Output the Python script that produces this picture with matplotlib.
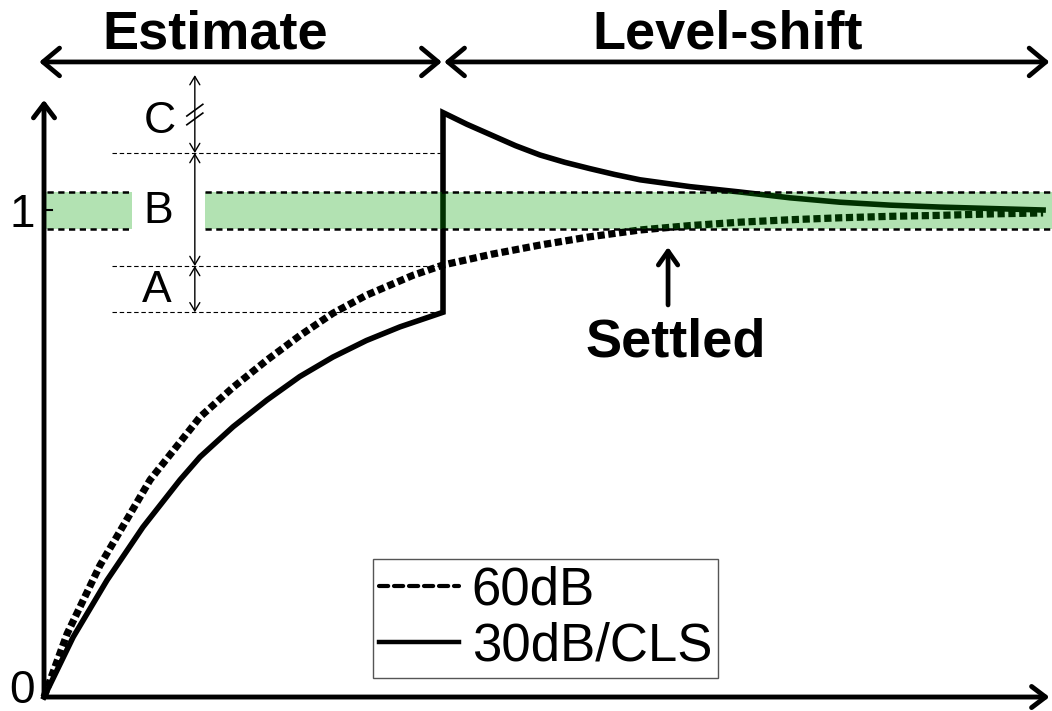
import matplotlib
matplotlib.use("Agg")
import matplotlib.pyplot as plt

plt.rcParams['font.family'] = ['Liberation Sans', 'DejaVu Sans']

# normalised time (1 = end of estimate phase) and normalised output
t_60 = [0.0, 0.058, 0.14, 0.266, 0.391, 0.474, 0.559, 0.641, 0.724, 0.808, 0.925, 1.0,
        1.121, 1.243, 1.368, 1.494, 1.619, 1.744, 1.87, 1.995, 2.12, 2.246, 2.375, 2.504]
y_60 = [0.0, 0.13, 0.27, 0.446, 0.575, 0.636, 0.692, 0.742, 0.788, 0.825, 0.866, 0.887,
        0.909, 0.928, 0.945, 0.959, 0.968, 0.975, 0.980, 0.984, 0.987, 0.989, 0.992, 0.994]

t_30 = [0.0, 0.073, 0.158, 0.248, 0.341, 0.391, 0.474, 0.559, 0.641, 0.724, 0.808, 0.892, 1.0,
        1.0, 1.06, 1.121, 1.182, 1.243, 1.305, 1.368, 1.43, 1.494, 1.619, 1.744, 1.87, 1.995,
        2.12, 2.246, 2.375, 2.504]
y_30 = [0.0, 0.123, 0.240, 0.349, 0.446, 0.493, 0.555, 0.610, 0.658, 0.698, 0.732, 0.760, 0.790,
        1.2, 1.176, 1.154, 1.132, 1.113, 1.098, 1.085, 1.073, 1.062, 1.048, 1.037, 1.025, 1.016,
        1.010, 1.006, 1.003, 1.0]

labels = ['60dB', '30dB/CLS']
phases = ['Estimate', 'Level-shift']
t_end = 2.52
band = (0.962, 1.037)      # settling tolerance band
lvl_c = 1.117              # C/B boundary
lvl_a = 0.885              # B/A boundary
lvl_low = 0.79             # bottom of A

fig = plt.figure(figsize=(10.52, 7.11), dpi=100)
ax = fig.add_axes([0, 0, 1, 1])
ax.set_xlim(-0.1103, 2.5263)
ax.set_ylim(-0.0287, 1.4312)
ax.axis('off')

# curves
ax.plot(t_60, y_60, color='black', lw=5.2, dashes=(1.0, 0.5), dash_capstyle='butt', zorder=3)
ax.plot(t_30, y_30, color='black', lw=4.0, solid_joinstyle='miter', zorder=3)

# green tolerance band, drawn over the curves (split around label B)
green = (0.0, 0.63, 0.0)
for x0, x1 in [(0.0, 0.2206), (0.4035, 2.5263)]:
    ax.fill_between([x0, x1], band[0], band[1], color=green, alpha=0.3, lw=0, zorder=4)
for x0, x1 in [(0.008, 0.212), (0.4035, 2.5263)]:
    for yb in band:
        ax.plot([x0, x1], [yb, yb], color='black', lw=1.8, dashes=(2.5, 1.8), zorder=5)

# thin reference lines
for yl in [lvl_c, lvl_a, lvl_low]:
    ax.plot([0.17, 0.992], [yl, yl], color='black', lw=0.8, dashes=(4, 2.5), zorder=2)

# axes with arrows
ax_arrow = dict(arrowstyle='->,head_length=0.5,head_width=0.38', lw=3.5, color='black',
                shrinkA=0, shrinkB=0, mutation_scale=20)
ax.annotate('', xy=(t_end, 0), xytext=(0, 0), arrowprops=ax_arrow, zorder=6)
ax.annotate('', xy=(0, 1.226), xytext=(0, 0), arrowprops=ax_arrow, zorder=6)
ax.plot([0, 0.02], [1, 1], color='black', lw=1.5, zorder=6)
ax.text(-0.055, 0.965, '1', fontsize=33, ha='center', va='baseline')
ax.text(-0.055, -0.012, '0', fontsize=33, ha='center', va='baseline')

# phase arrows and titles
ph_arrow = dict(arrowstyle='<->,head_length=0.6,head_width=0.5', lw=3.4, color='black',
                shrinkA=0, shrinkB=0, mutation_scale=20)
ax.annotate('', xy=(-0.012, 1.304), xytext=(0.997, 1.304), arrowprops=ph_arrow)
ax.annotate('', xy=(1.003, 1.304), xytext=(t_end, 1.304), arrowprops=ph_arrow)
ax.text(0.4286, 1.3326, phases[0], fontsize=39, fontweight='bold', ha='center', va='baseline')
ax.text(1.714, 1.3326, phases[1], fontsize=39, fontweight='bold', ha='center', va='baseline')

# A / B / C dimension arrows
xm = 0.378
dim = dict(arrowstyle='<->,head_length=0.5,head_width=0.3', lw=1.0, color='black',
           shrinkA=0, shrinkB=0, mutation_scale=12)
ax.annotate('', xy=(xm, 1.277), xytext=(xm, lvl_c), arrowprops=dim)
ax.annotate('', xy=(xm, lvl_c), xytext=(xm, lvl_a), arrowprops=dim)
ax.annotate('', xy=(xm, lvl_a), xytext=(xm, lvl_low), arrowprops=dim)
for yb in [1.187, 1.205]:
    ax.plot([xm - 0.02, xm + 0.02], [yb - 0.012, yb + 0.012], color='black', lw=1.2)
ax.text(0.291, 1.158, 'C', fontsize=32, ha='center', va='baseline')
ax.text(0.286, 0.973, 'B', fontsize=32, ha='center', va='baseline')
ax.text(0.283, 0.811, 'A', fontsize=32, ha='center', va='baseline')

# settled marker
ax.annotate('', xy=(1.564, 0.924), xytext=(1.564, 0.805),
            arrowprops=dict(arrowstyle='->,head_length=0.5,head_width=0.35', lw=3.4,
                            color='black', shrinkA=0, shrinkB=0, mutation_scale=20))
ax.text(1.584, 0.700, 'Settled', fontsize=39, fontweight='bold', ha='center', va='baseline')

# legend with thinner sample lines
h60 = plt.Line2D([], [], color='black', lw=3.0, dashes=(2.2, 1.4), dash_capstyle='round')
h30 = plt.Line2D([], [], color='black', lw=3.2)
ax.legend([h60, h30], labels, loc='upper left', bbox_to_anchor=(373 / 1052, 1 - 559 / 711),
          bbox_transform=fig.transFigure, fontsize=38, handlelength=1.5,
          handletextpad=0.25, borderpad=0.12, labelspacing=0.12, borderaxespad=0,
          frameon=True, fancybox=False, edgecolor='#555555', framealpha=1)

fig.savefig('out.png', dpi=100)
